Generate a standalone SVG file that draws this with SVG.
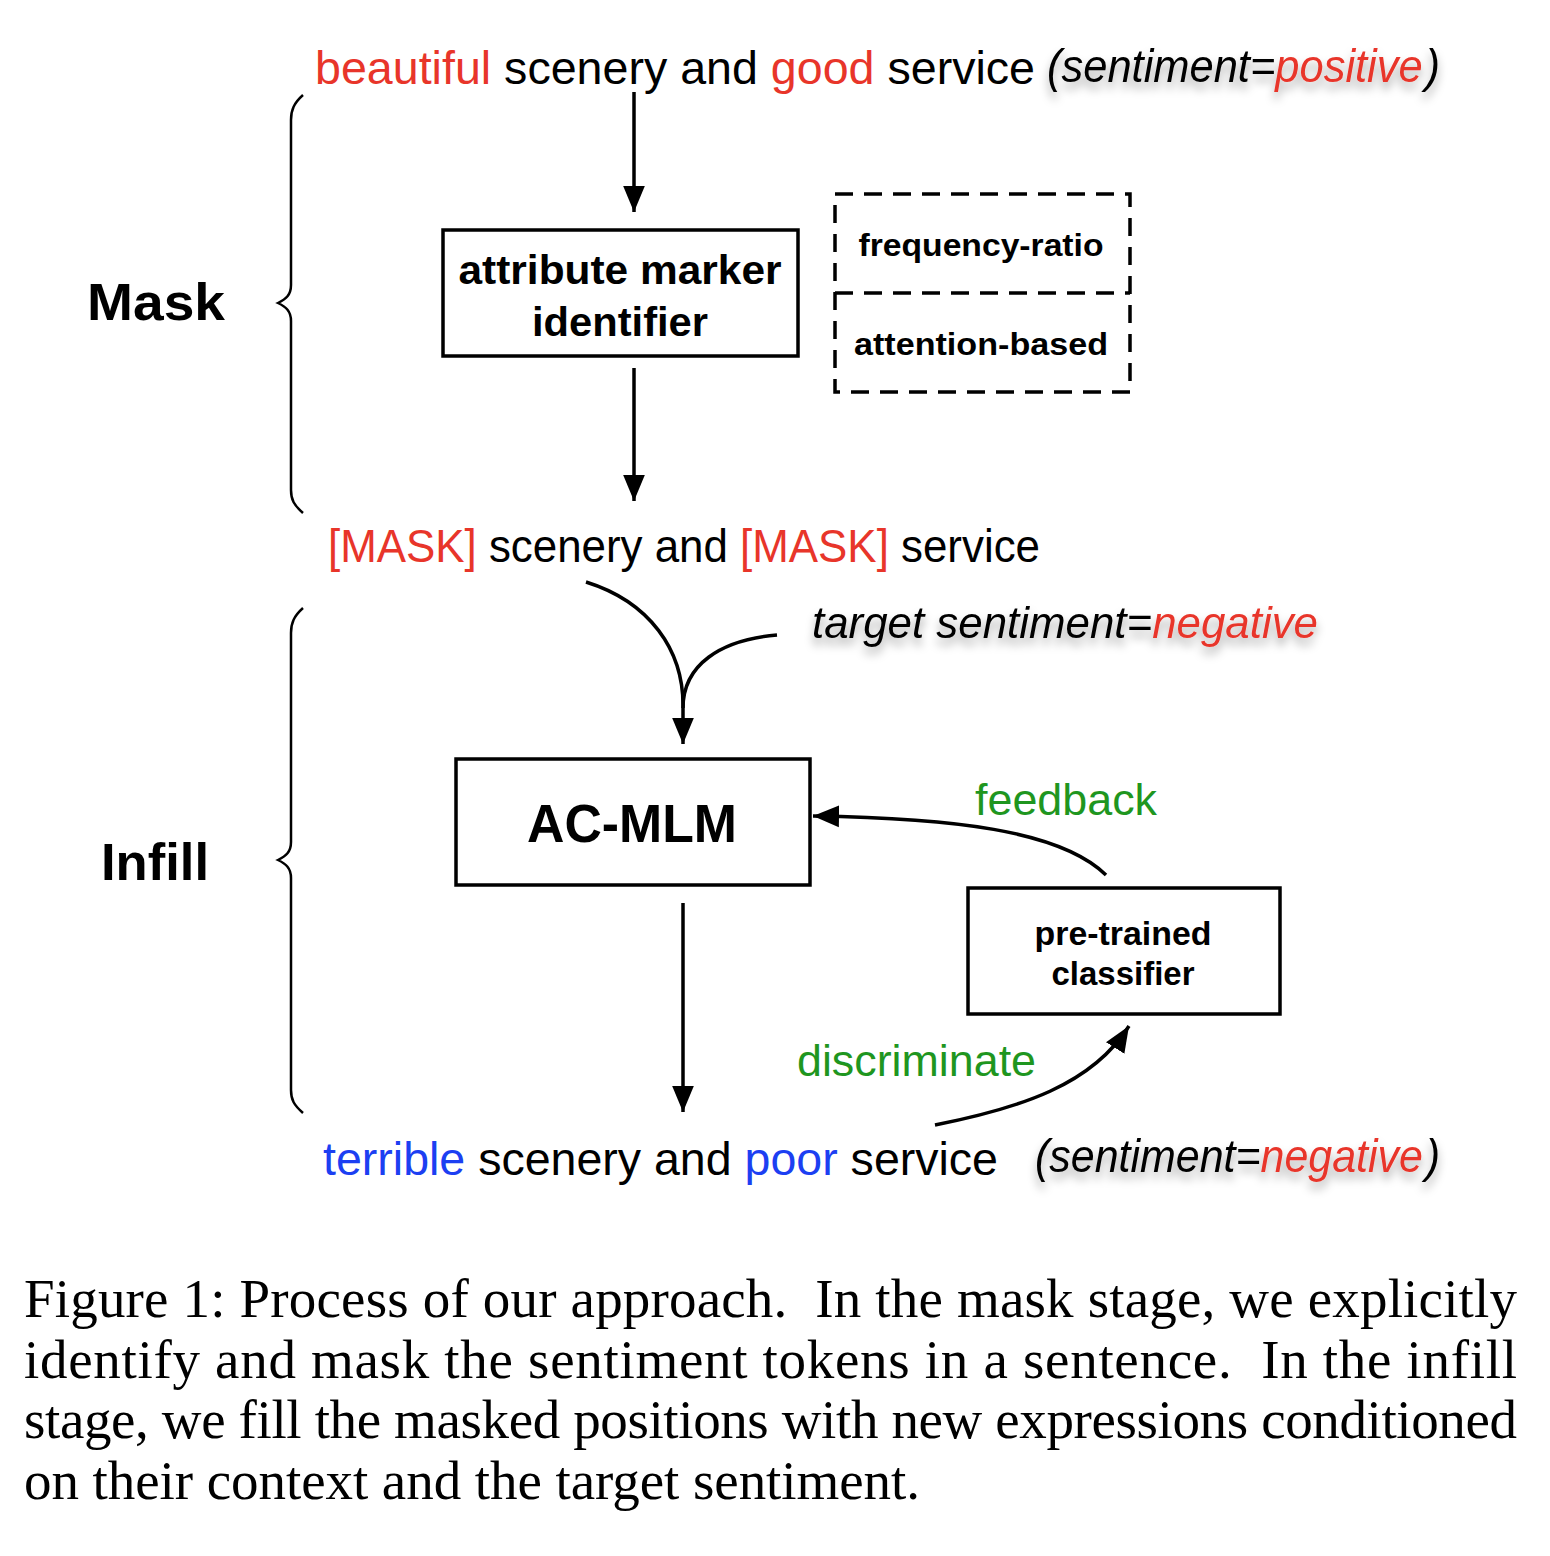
<svg xmlns="http://www.w3.org/2000/svg" width="1550" height="1556" viewBox="0 0 1550 1556">
<style>
.s{font-family:"Liberation Sans",Arial,sans-serif;}
.b{font-family:"Liberation Sans",Arial,sans-serif;font-weight:bold;}
.it{font-family:"Liberation Sans",Arial,sans-serif;font-style:italic;}
.cap{font-family:"Liberation Serif","Times New Roman",serif;font-size:55px;fill:#000;}
.red{fill:#e8352a;}
.blue{fill:#1c3ff2;}
.green{fill:#1f961f;}
.box{fill:#fff;stroke:#000;stroke-width:3.5;}
.dash{fill:none;stroke:#000;stroke-width:3.5;stroke-dasharray:18 11;}
.ln{fill:none;stroke:#000;stroke-width:3.5;}
.br{fill:none;stroke:#000;stroke-width:2.5;}
</style>
<defs>
<marker id="ah" markerUnits="userSpaceOnUse" markerWidth="26" markerHeight="26" viewBox="0 0 24 20" refX="24" refY="10" orient="auto">
<path d="M0,0 L24,10 L0,20 Z" fill="#000"/>
</marker>
<filter id="sh" x="-10%" y="-30%" width="120%" height="190%">
<feDropShadow dx="0" dy="7" stdDeviation="5" flood-color="#000" flood-opacity="0.35"/>
</filter>
</defs>
<rect width="1550" height="1556" fill="#fff"/>

<g id="braces">
<path class="br" d="M303,95 C294,103 291,110 291,120 L291,285 C291,295 286,299 278,303 C286,307 291,311 291,321 L291,490 C291,500 294,505 303,513"/>
<path class="br" d="M303,608 C294,616 291,623 291,633 L291,842 C291,852 286,856 278,860 C286,864 291,868 291,878 L291,1090 C291,1100 294,1105 303,1113"/>
</g>

<g id="stage-labels">
<text class="b" x="87" y="320" font-size="52" textLength="138" lengthAdjust="spacingAndGlyphs">Mask</text>
<text class="b" x="101" y="880" font-size="52" textLength="108" lengthAdjust="spacingAndGlyphs">Infill</text>
</g>

<g id="connectors">
<line class="ln" x1="634" y1="92" x2="634" y2="212" marker-end="url(#ah)"/>
<line class="ln" x1="634" y1="368" x2="634" y2="501" marker-end="url(#ah)"/>
<path class="ln" d="M586,582 C650,602 683,650 683,705 L683,744" marker-end="url(#ah)"/>
<path class="ln" d="M777,635 C720,640 683,665 683,708"/>
<path class="ln" d="M1106,875 C1060,830 950,818 813,816" marker-end="url(#ah)"/>
<line class="ln" x1="683" y1="903" x2="683" y2="1112" marker-end="url(#ah)"/>
<path class="ln" d="M935,1125 C1020,1108 1092,1085 1129,1026" marker-end="url(#ah)"/>
</g>

<g id="input-sentence">
<text class="s" x="315" y="84" font-size="46" textLength="720" lengthAdjust="spacingAndGlyphs"><tspan class="red">beautiful</tspan> scenery and <tspan class="red">good</tspan> service</text>
<text class="it" x="1047" y="82" font-size="46" textLength="393" lengthAdjust="spacingAndGlyphs" filter="url(#sh)">(sentiment=<tspan class="red">positive</tspan><tspan dx="3">)</tspan></text>
</g>

<g id="attribute-marker-identifier">
<rect class="box" x="443" y="230" width="355" height="126"/>
<text class="b" x="620" y="284" font-size="40" text-anchor="middle" textLength="323" lengthAdjust="spacingAndGlyphs">attribute marker</text>
<text class="b" x="620" y="336" font-size="40" text-anchor="middle" textLength="176" lengthAdjust="spacingAndGlyphs">identifier</text>
</g>

<g id="methods">
<rect class="dash" x="835" y="194" width="295" height="198"/>
<line class="dash" x1="835" y1="293" x2="1130" y2="293"/>
<text class="b" x="981" y="256" font-size="31" text-anchor="middle" textLength="245" lengthAdjust="spacingAndGlyphs">frequency-ratio</text>
<text class="b" x="981" y="355" font-size="31" text-anchor="middle" textLength="254" lengthAdjust="spacingAndGlyphs">attention-based</text>
</g>

<g id="masked-sentence">
<text class="s" x="328" y="562" font-size="46" textLength="712" lengthAdjust="spacingAndGlyphs"><tspan class="red">[MASK]</tspan> scenery and <tspan class="red">[MASK]</tspan> service</text>
</g>

<g id="target-sentiment">
<text class="it" x="812" y="638" font-size="44" textLength="506" lengthAdjust="spacingAndGlyphs" filter="url(#sh)">target sentiment=<tspan class="red">negative</tspan></text>
</g>

<g id="ac-mlm">
<rect class="box" x="456" y="759" width="354" height="126"/>
<text class="b" x="632" y="842" font-size="54" text-anchor="middle" textLength="210" lengthAdjust="spacingAndGlyphs">AC-MLM</text>
</g>

<g id="feedback-label">
<text class="s green" x="975" y="815" font-size="44" textLength="182" lengthAdjust="spacingAndGlyphs">feedback</text>
</g>

<g id="classifier">
<rect class="box" x="968" y="888" width="312" height="126"/>
<text class="b" x="1123" y="945" font-size="33" text-anchor="middle" textLength="177" lengthAdjust="spacingAndGlyphs">pre-trained</text>
<text class="b" x="1123" y="985" font-size="33" text-anchor="middle" textLength="143" lengthAdjust="spacingAndGlyphs">classifier</text>
</g>

<g id="discriminate-label">
<text class="s green" x="797" y="1076" font-size="44" textLength="239" lengthAdjust="spacingAndGlyphs">discriminate</text>
</g>

<g id="output-sentence">
<text class="s" x="323" y="1175" font-size="46" textLength="675" lengthAdjust="spacingAndGlyphs"><tspan class="blue">terrible</tspan> scenery and <tspan class="blue">poor</tspan> service</text>
<text class="it" x="1035" y="1172" font-size="46" textLength="405" lengthAdjust="spacingAndGlyphs" filter="url(#sh)">(sentiment=<tspan class="red">negative</tspan><tspan dx="3">)</tspan></text>
</g>

<g id="caption">
<text class="cap" x="24" y="1317" textLength="1493" lengthAdjust="spacing">Figure 1: Process of our approach.&#160; In the mask stage, we explicitly</text>
<text class="cap" x="24" y="1378" textLength="1493" lengthAdjust="spacing">identify and mask the sentiment tokens in a sentence.&#160; In the infill</text>
<text class="cap" x="24" y="1438" textLength="1493" lengthAdjust="spacing">stage, we fill the masked positions with new expressions conditioned</text>
<text class="cap" x="24" y="1499" textLength="896" lengthAdjust="spacing">on their context and the target sentiment.</text>
</g>
</svg>
